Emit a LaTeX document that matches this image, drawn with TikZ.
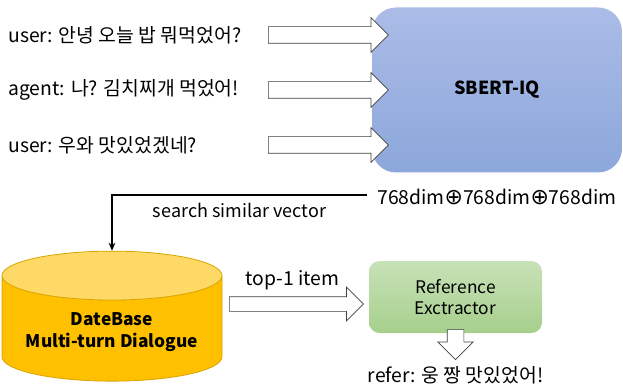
\documentclass[tikz,border=0pt]{standalone}
\usepackage{fontspec}
\setmainfont{Noto Sans CJK KR}
\newfontfamily\symfont{DejaVu Sans}
\usetikzlibrary{positioning,arrows.meta,shapes.arrows,shapes.geometric}

\definecolor{sbertTop}{HTML}{ABBCE7}
\definecolor{sbertBot}{HTML}{8CA7DB}
\definecolor{refTop}{HTML}{C8E2B8}
\definecolor{refBot}{HTML}{A6CF8B}
\definecolor{dbBody}{HTML}{FFC000}
\definecolor{dbTop}{HTML}{FFD966}
\definecolor{dbEdge}{HTML}{D9A300}

\tikzset{
  utter/.style={anchor=west,inner sep=0pt,font=\fontsize{14.5}{17}\selectfont},
  fatarrow/.style={single arrow,draw=black!75,fill=white,line width=0.5pt,inner sep=6pt,
    single arrow head extend=6.75pt,minimum height=#1,anchor=tail},
  sbertbox/.style={rounded corners=18pt,top color=sbertTop,bottom color=sbertBot,
    minimum width=187.5pt,minimum height=123.75pt,font=\bfseries\fontsize{13.5}{16}\selectfont},
  refbox/.style={rounded corners=8pt,top color=refTop,bottom color=refBot,align=center,
    minimum width=129.75pt,minimum height=54pt,font=\fontsize{13}{16}\selectfont},
  dbcyl/.style={cylinder,shape border rotate=90,aspect=0.27,draw=dbEdge,line width=0.6pt,
    cylinder uses custom fill,cylinder body fill=dbBody,cylinder end fill=dbTop,
    minimum width=165pt,minimum height=97.5pt,align=center,
    font=\bfseries\fontsize{13}{16}\selectfont},
}
\newcommand{\oplusmark}{{\symfont\fontsize{16.5}{17}\selectfont ⊕}}

\begin{document}
\begin{tikzpicture}[x=0.75pt,y=-0.75pt,>={Stealth[length=6pt,width=5pt]}]
\useasboundingbox (0,0) rectangle (623,388);
\node[sbertbox] (sbert) at (497,90) {SBERT-IQ};
\node[utter] (u1) at (8,35) {user: 안녕 오늘 밥 뭐먹었어?};
\node[utter] (a1) at (8,90) {agent: 나? 김치찌개 먹었어!};
\node[utter] (u2) at (8,145) {user: 우와 맛있었겠네?};
\node[fatarrow=90pt] (ar1) at (268,35) {};
\node[fatarrow=90pt] (ar2) at (268,90) {};
\node[fatarrow=90pt] (ar3) at (268,145) {};
\node[anchor=west,inner sep=0pt,font=\fontsize{14.5}{17}\selectfont] (dims) at (377,197)
  {768dim\oplusmark768dim\oplusmark768dim};
\coordinate (vecstart) at (367,195);

\node[dbcyl] (db) at (112,332) {DateBase\\Multi-turn Dialogue};
\draw[line width=1.5pt,->] (vecstart) -| (db.north)
  node[pos=0.25,below=2pt,font=\fontsize{13.5}{16}\selectfont] {search similar vector};

\node[fatarrow=100.5pt,inner sep=5.25pt,single arrow head extend=7.1pt] (ar4) at (229,304) {};
\node[above=1pt of ar4,font=\fontsize{14.5}{17}\selectfont] (top1) {top-1 item};
\node[refbox] (ref) at (455.5,297) {Reference\\Exctractor};
\node[fatarrow=22.5pt,shape border rotate=270,single arrow head extend=7pt] (ar5)
  at ([yshift=3pt]ref.south) {};
\node[below=1pt of ar5,font=\fontsize{14.5}{17}\selectfont] (refer) {refer: 웅 짱 맛있었어!};
\end{tikzpicture}
\end{document}
